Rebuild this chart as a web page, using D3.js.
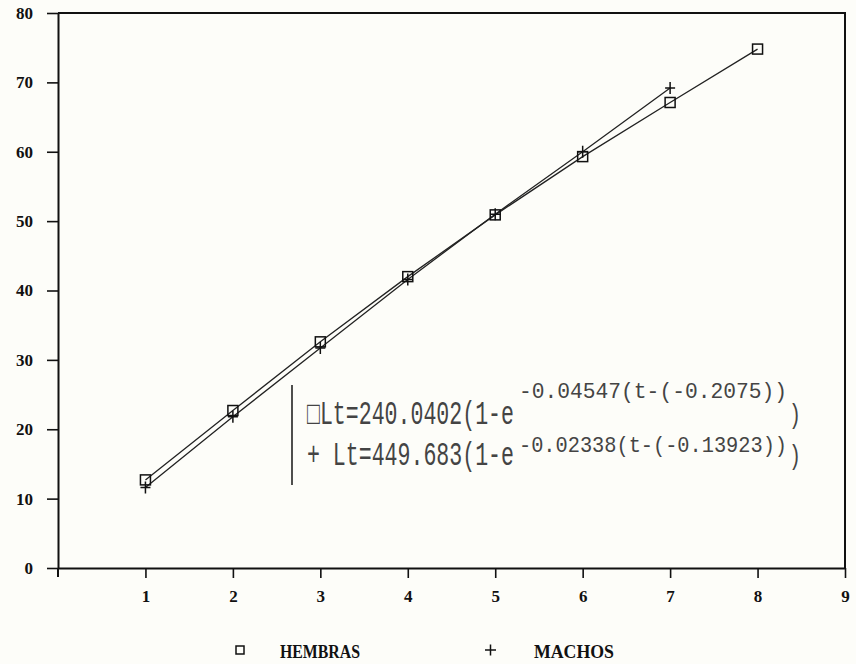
<!DOCTYPE html>
<html>
<head>
<meta charset="utf-8">
<script src="https://cdn.jsdelivr.net/npm/d3@7"></script>
<style>
    body { margin: 0; background: #fdfdf9; }
    svg { display: block; }
</style>
</head>
<body>
<div id="chart"></div>
<script>
// age classes (x) and mean lengths
var edades = [1, 2, 3, 4, 5, 6, 7, 8];
var hembras = [12.7, 22.7, 32.6, 42.0, 50.9, 59.3, 67.1, 74.8];
var edadesMachos = [1, 2, 3, 4, 5, 6, 7];
var machos = [11.6, 21.8, 31.7, 41.6, 51.0, 60.0, 69.2];

var xTicks = [1, 2, 3, 4, 5, 6, 7, 8, 9];
var yTicks = [0, 10, 20, 30, 40, 50, 60, 70, 80];

var ecuaciones = [
    {simbolo: "\u25A1", base: "Lt=240.0402(1-e", exp: "-0.04547(t-(-0.2075))"},
    {simbolo: "+ ", base: "Lt=449.683(1-e", exp: "-0.02338(t-(-0.13923))"}
];

var svgWidth = 856, svgHeight = 664;
var plotLeft = 58, plotRight = 845, plotTop = 13, plotBottom = 568;

var svg = d3.select("#chart").append("svg")
    .attr("width", svgWidth)
    .attr("height", svgHeight);

var x = d3.scaleLinear().domain([0, 9]).range([plotLeft, plotRight]);
var y = d3.scaleLinear().domain([0, 80]).range([plotBottom, plotTop]);

// frame (top and right sides)
svg.append("path")
    .attr("d", "M" + plotLeft + "," + plotTop + "H" + plotRight + "V" + plotBottom)
    .attr("fill", "none")
    .attr("stroke", "#111")
    .attr("stroke-width", 2);

// axes
var yAxis = svg.append("g")
    .attr("transform", "translate(" + plotLeft + ",0)")
    .call(d3.axisLeft(y).tickValues(yTicks).tickSize(11).tickPadding(14).tickSizeOuter(0));

var xAxis = svg.append("g")
    .attr("transform", "translate(0," + plotBottom + ")")
    .call(d3.axisBottom(x).tickValues(xTicks).tickSize(10).tickPadding(12).tickSizeOuter(0));

[yAxis, xAxis].forEach(function (ax) {
    ax.attr("font-family", "'Liberation Serif', serif")
        .attr("font-size", 17)
        .attr("font-weight", "bold");
    ax.select(".domain").attr("stroke", "#111").attr("stroke-width", 2);
    ax.selectAll(".tick line").attr("stroke", "#111").attr("stroke-width", 1.6);
    ax.selectAll(".tick text").attr("fill", "#111");
});
// small stub of the y axis below the x axis
svg.append("line")
    .attr("x1", plotLeft).attr("x2", plotLeft)
    .attr("y1", plotBottom).attr("y2", plotBottom + 9)
    .attr("stroke", "#111").attr("stroke-width", 2);

var line = d3.line()
    .x(function (d) { return x(d.x); })
    .y(function (d) { return y(d.y); });

var hData = edades.map(function (e, i) { return {x: e, y: hembras[i]}; });
var mData = edadesMachos.map(function (e, i) { return {x: e, y: machos[i]}; });

svg.append("path").datum(mData)
    .attr("d", line)
    .attr("fill", "none")
    .attr("stroke", "#222")
    .attr("stroke-width", 1.3);

svg.append("path").datum(hData)
    .attr("d", line)
    .attr("fill", "none")
    .attr("stroke", "#222")
    .attr("stroke-width", 1.3);

// square markers for hembras
svg.selectAll("rect.hembra")
    .data(hData)
    .enter()
    .append("rect")
    .attr("class", "hembra")
    .attr("x", function (d) { return x(d.x) - 5; })
    .attr("y", function (d) { return y(d.y) - 5; })
    .attr("width", 10)
    .attr("height", 10)
    .attr("fill", "none")
    .attr("stroke", "#111")
    .attr("stroke-width", 1.5);

// plus markers for machos
svg.selectAll("path.macho")
    .data(mData)
    .enter()
    .append("path")
    .attr("class", "macho")
    .attr("d", function (d) {
        var cx = x(d.x), cy = y(d.y);
        return "M" + (cx - 5) + "," + cy + "H" + (cx + 5) + "M" + cx + "," + (cy - 6) + "V" + (cy + 6);
    })
    .attr("stroke", "#111")
    .attr("stroke-width", 1.5);

// equation box
svg.append("line")
    .attr("x1", 292).attr("x2", 292)
    .attr("y1", 385).attr("y2", 485)
    .attr("stroke", "#222")
    .attr("stroke-width", 1.6);

var baseY = [424, 465], supY = [398, 452];

var eq = svg.selectAll("g.eq")
    .data(ecuaciones)
    .enter()
    .append("g")
    .attr("class", "eq")
    .style("font-family", "'Liberation Mono', monospace")
    .attr("fill", "#444");

eq.append("text")
    .attr("transform", function (d, i) { return "translate(307," + baseY[i] + ") scale(1,1.55)"; })
    .style("font-size", "21px")
    .text(function (d) { return d.simbolo + d.base; })
    .attr("textLength", 207)
    .attr("lengthAdjust", "spacingAndGlyphs");

eq.append("text")
    .attr("transform", function (d, i) { return "translate(519," + supY[i] + ") scale(1,1.12)"; })
    .style("font-size", "20px")
    .text(function (d) { return d.exp; })
    .attr("textLength", 268)
    .attr("lengthAdjust", "spacingAndGlyphs");

eq.append("text")
    .attr("transform", function (d, i) { return "translate(789," + (baseY[i] - 1) + ") scale(1,1.35)"; })
    .style("font-size", "20px")
    .text(")");

// bottom legend
var leyenda = svg.append("g")
    .style("font-family", "'Liberation Serif', serif")
    .style("font-weight", "bold")
    .attr("fill", "#111");

leyenda.append("rect")
    .attr("x", 236).attr("y", 646)
    .attr("width", 8).attr("height", 8)
    .attr("fill", "none")
    .attr("stroke", "#111")
    .attr("stroke-width", 1.5);

leyenda.append("text")
    .attr("x", 280).attr("y", 658)
    .style("font-size", "19px")
    .attr("textLength", 80)
    .attr("lengthAdjust", "spacingAndGlyphs")
    .text("HEMBRAS");

leyenda.append("path")
    .attr("d", "M485,650H496M490.5,644.5V655.5")
    .attr("stroke", "#111")
    .attr("stroke-width", 1.5);

leyenda.append("text")
    .attr("x", 534).attr("y", 658)
    .style("font-size", "19px")
    .attr("textLength", 80)
    .attr("lengthAdjust", "spacingAndGlyphs")
    .text("MACHOS");
</script>
</body>
</html>
